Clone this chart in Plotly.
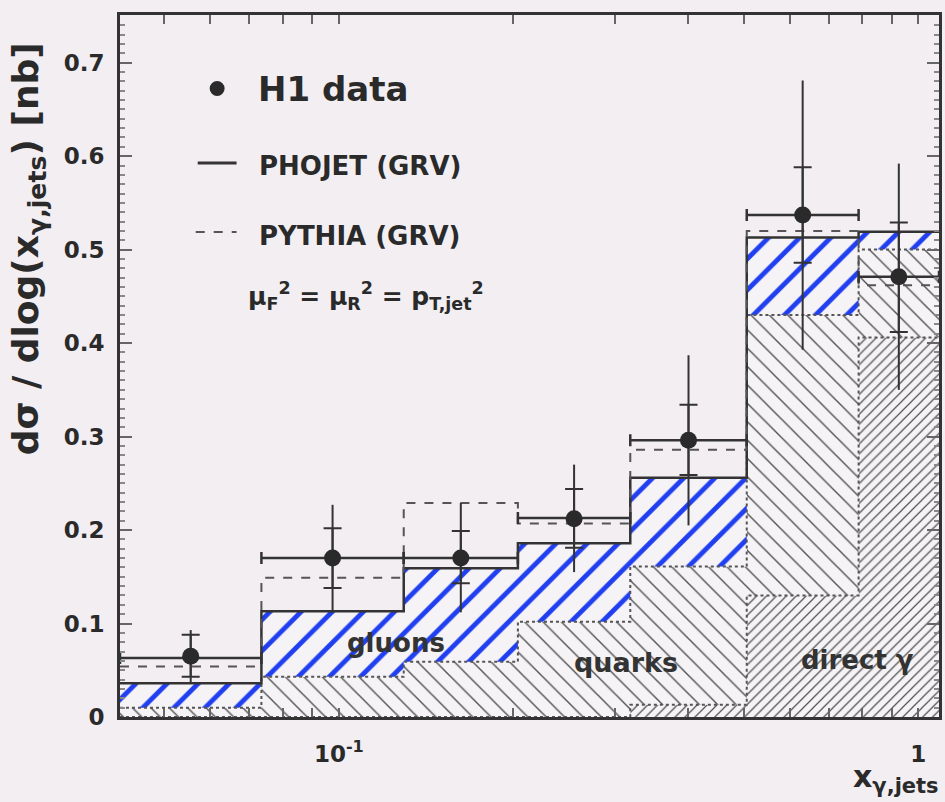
import numpy as np
import plotly.graph_objects as go

# ---------------- data ----------------
bin_edges = [0.0419, 0.0735, 0.1294, 0.2037, 0.3184, 0.5058, 0.789, 1.086]
h1_data = [0.065, 0.170, 0.170, 0.212, 0.296, 0.537, 0.471]
stat_plus = [0.023, 0.032, 0.029, 0.032, 0.038, 0.051, 0.058]
stat_minus = [0.022, 0.032, 0.027, 0.031, 0.037, 0.051, 0.059]
tot_plus = [0.028, 0.057, 0.059, 0.058, 0.091, 0.144, 0.121]
tot_minus = [0.029, 0.058, 0.058, 0.057, 0.091, 0.144, 0.121]
phojet = [0.063, 0.170, 0.170, 0.213, 0.296, 0.537, 0.471]
pythia = [0.054, 0.149, 0.229, 0.207, 0.286, 0.520, 0.462]
direct_gamma = [0.000, 0.000, 0.000, 0.000, 0.013, 0.130, 0.406]
quarks = [0.010, 0.043, 0.059, 0.102, 0.148, 0.300, 0.094]
gluons = [0.026, 0.070, 0.100, 0.084, 0.095, 0.083, 0.019]

BG = "#f2eef2"
DARK = "#333333"
BLUE = "#1f3ff0"
FONT = "DejaVu Sans"

edges = np.array(bin_edges)
centers = np.sqrt(edges[:-1] * edges[1:])
lvl0 = np.zeros(len(h1_data))
lvl1 = np.array(direct_gamma)
lvl2 = lvl1 + np.array(quarks)
lvl3 = lvl2 + np.array(gluons)

fig = go.Figure()


def band(lower, upper):
    xs, ys = [], []
    for j in range(len(upper)):
        xs += [edges[j], edges[j + 1]]
        ys += [upper[j], upper[j]]
    for j in reversed(range(len(lower))):
        xs += [edges[j + 1], edges[j]]
        ys += [lower[j], lower[j]]
    return xs, ys


for lo, hi, shape, col, size, sol in [
    (lvl0, lvl1, "/", "#555555", 7, 0.18),
    (lvl1, lvl2, "\\", "#555555", 13, 0.11),
    (lvl2, lvl3, "/", BLUE, 22, 0.22),
]:
    xs, ys = band(lo, hi)
    fig.add_trace(go.Scatter(
        x=xs, y=ys, mode="lines", fill="toself", line=dict(width=0),
        fillcolor="#f6f3f6",
        fillpattern=dict(shape=shape, fgcolor=col, bgcolor="#f6f3f6",
                         fgopacity=1, size=size, solidity=sol),
        hoverinfo="skip", showlegend=False))


def step(vals):
    return list(edges), list(vals) + [vals[-1]]

# component boundaries (dotted)
for lv in (lvl1, lvl2):
    sx, sy = step(lv)
    fig.add_trace(go.Scatter(x=sx, y=sy, mode="lines", line_shape="hv",
                             line=dict(color="#555555", width=2, dash="dot"),
                             showlegend=False, hoverinfo="skip"))

# sum of components (solid)
sx, sy = step(lvl3)
fig.add_trace(go.Scatter(x=sx, y=sy, mode="lines", line_shape="hv",
                         line=dict(color=DARK, width=2.5),
                         showlegend=False, hoverinfo="skip"))

# PYTHIA (dashed)
sx, sy = step(pythia)
fig.add_trace(go.Scatter(x=sx, y=sy, mode="lines", line_shape="hv",
                         line=dict(color="#555555", width=2, dash="dash"),
                         showlegend=False, hoverinfo="skip"))

# PHOJET (solid, per-bin)
fig.add_trace(go.Scatter(
    x=centers, y=phojet, mode="markers",
    marker=dict(size=1, color="rgba(0,0,0,0)"),
    error_x=dict(type="data", symmetric=False,
                 array=list(edges[1:] - centers),
                 arrayminus=list(centers - edges[:-1]),
                 color=DARK, thickness=2.5, width=6),
    showlegend=False, hoverinfo="skip"))

# H1 data: total errors
fig.add_trace(go.Scatter(
    x=centers, y=h1_data, mode="markers",
    marker=dict(size=1, color="rgba(0,0,0,0)"),
    error_y=dict(type="data", symmetric=False, array=tot_plus,
                 arrayminus=tot_minus, color=DARK, thickness=2, width=0),
    showlegend=False, hoverinfo="skip"))
# H1 data: stat errors + markers
fig.add_trace(go.Scatter(
    x=centers, y=h1_data, mode="markers",
    marker=dict(size=17, color="#2a2a2a"),
    error_y=dict(type="data", symmetric=False, array=stat_plus,
                 arrayminus=stat_minus, color=DARK, thickness=2, width=9),
    showlegend=False))

# --------------- layout ---------------
L, R, T, B = 120, 3, 15, 85
W, H = 945, 802
pw, ph = W - L - R, H - T - B


def px(x):
    return (x - L) / pw


def py(y):
    return (H - B - y) / ph


minor_x = [0.05, 0.06, 0.07, 0.08, 0.09, 0.1, 0.2, 0.3, 0.4, 0.5, 0.6, 0.7, 0.8, 0.9, 1.0]
minor_txt = ["" for _ in minor_x]
minor_txt[minor_x.index(0.1)] = "10<sup>-1</sup>"
minor_txt[minor_x.index(1.0)] = "1"

fig.update_layout(
    width=W, height=H, margin=dict(l=L, r=R, t=T, b=B),
    paper_bgcolor=BG, plot_bgcolor=BG,
    font=dict(family=FONT, color="#2a2a2a"),
    xaxis=dict(type="log", range=[np.log10(edges[0]), np.log10(edges[-1])],
               tickvals=minor_x, ticktext=minor_txt,
               ticks="inside", ticklen=9, tickwidth=1.5, tickcolor="#666",
               showline=True, linewidth=3, linecolor=DARK, mirror="allticks",
               showgrid=False, zeroline=False, ticklabelstandoff=14,
               tickfont=dict(size=23, family=FONT, weight="bold", color="#2a2a2a")),
    yaxis=dict(range=[0, 0.751], tickvals=[0, 0.1, 0.2, 0.3, 0.4, 0.5, 0.6, 0.7],
               ticktext=["0", "0.1", "0.2", "0.3", "0.4", "0.5", "0.6", "0.7"],
               ticks="inside", ticklen=12, tickwidth=1.5, tickcolor="#666",
               minor=dict(dtick=0.01, ticks="inside", ticklen=5, tickcolor="#888"),
               showline=True, linewidth=3, linecolor=DARK, mirror="allticks",
               showgrid=False, zeroline=False, ticklabelstandoff=8,
               tickfont=dict(size=23, family=FONT, weight="bold", color="#2a2a2a")),
)

ann = []


def add_text(text, x, y, size, xanchor="center", yanchor="middle", angle=0,
             color="#2a2a2a"):
    ann.append(dict(x=px(x), y=py(y), xref="paper", yref="paper",
                    xanchor=xanchor, yanchor=yanchor, textangle=angle,
                    text=text, showarrow=False,
                    font=dict(size=size, family=FONT, weight="bold", color=color)))

# axis titles
add_text("dσ / dlog(x<sub>γ,jets</sub>) [nb]", 28, 249, 36, angle=-90)
add_text("x<sub>γ,jets</sub>", 944, 800, 30, xanchor="right", yanchor="bottom")
# legend
add_text("H1 data", 256, 89, 34, xanchor="left")
add_text("PHOJET (GRV)", 258, 166, 26, xanchor="left")
add_text("PYTHIA (GRV)", 258, 236, 26, xanchor="left")
add_text("μ<sub>F</sub><sup>2</sup> = μ<sub>R</sub><sup>2</sup> = p<sub>T,jet</sub><sup>2</sup>",
         246, 296, 25, xanchor="left")
# component labels
add_text("gluons", 397, 643, 26, color="#333333")
add_text("quarks", 628, 662, 27, color="#333333")
add_text("direct γ", 860, 660, 26, color="#333333")
fig.update_layout(annotations=ann)

shapes = [
    dict(type="circle", xref="paper", yref="paper",
         x0=px(210), x1=px(225), y0=py(96), y1=py(81),
         fillcolor="#2a2a2a", line=dict(width=0)),
    dict(type="line", xref="paper", yref="paper",
         x0=px(198), x1=px(237), y0=py(163), y1=py(163),
         line=dict(color=DARK, width=3)),
    dict(type="line", xref="paper", yref="paper",
         x0=px(196), x1=px(237), y0=py(232), y1=py(232),
         line=dict(color="#555555", width=2, dash="dash")),
]
fig.update_layout(shapes=shapes)

fig.write_html("out.html")
